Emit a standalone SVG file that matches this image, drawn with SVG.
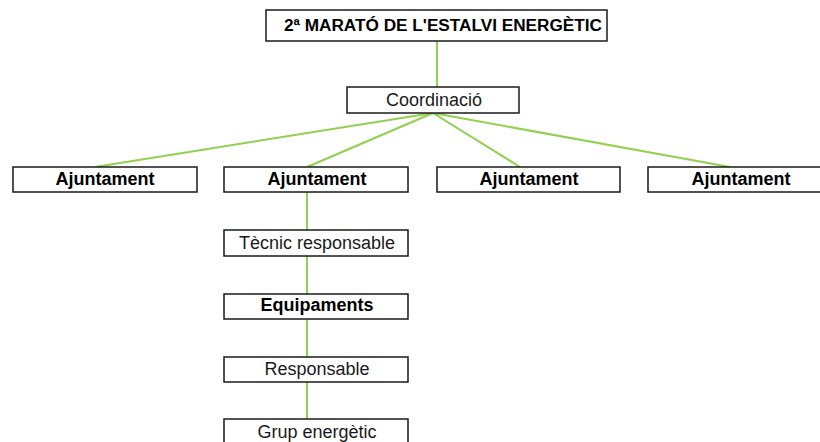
<svg xmlns="http://www.w3.org/2000/svg" width="820" height="442" viewBox="0 0 820 442">
<style>
.box{fill:#fff;stroke:#1a1a1a;stroke-width:1.5}
.t{font-family:"Liberation Sans",Arial,sans-serif;font-size:18px;fill:#1a1a1a;text-anchor:middle}
.b{font-weight:bold;fill:#000}
.c{stroke:#92d050;stroke-width:2;fill:none}
</style>
<rect width="820" height="442" fill="#fff"/>
<g id="connectors">
<line class="c" x1="437" y1="41" x2="437" y2="87"/>
<line class="c" x1="433" y1="113" x2="95" y2="167"/>
<line class="c" x1="433" y1="113" x2="307" y2="167"/>
<line class="c" x1="433" y1="113" x2="520" y2="167"/>
<line class="c" x1="433" y1="113" x2="730" y2="167"/>
<line class="c" x1="307" y1="192" x2="307" y2="230"/>
<line class="c" x1="307" y1="256" x2="307" y2="294"/>
<line class="c" x1="307" y1="319" x2="307" y2="357"/>
<line class="c" x1="307" y1="382" x2="307" y2="419"/>
</g>
<g id="title"><rect class="box" x="266" y="10" width="341" height="31"/><text class="t b" x="443" y="31" style="font-size:17.2px">2ª MARATÓ DE L'ESTALVI ENERGÈTIC</text></g>
<g id="coord"><rect class="box" x="347" y="87" width="172" height="26"/><text class="t" x="434" y="106">Coordinació</text></g>
<g id="aj1"><rect class="box" x="13" y="167" width="184" height="25"/><text class="t b" x="105" y="185">Ajuntament</text></g>
<g id="aj2"><rect class="box" x="224" y="167" width="184" height="25"/><text class="t b" x="317" y="185">Ajuntament</text></g>
<g id="aj3"><rect class="box" x="437" y="167" width="183" height="25"/><text class="t b" x="529" y="185">Ajuntament</text></g>
<g id="aj4"><rect class="box" x="648" y="167" width="184" height="25"/><text class="t b" x="741" y="185">Ajuntament</text></g>
<g id="tecnic"><rect class="box" x="224" y="230" width="184" height="26"/><text class="t" x="317" y="249">Tècnic responsable</text></g>
<g id="equip"><rect class="box" x="224" y="294" width="184" height="25"/><text class="t b" x="317" y="311">Equipaments</text></g>
<g id="resp"><rect class="box" x="224" y="357" width="184" height="25"/><text class="t" x="317" y="375">Responsable</text></g>
<g id="grup"><rect class="box" x="224" y="419" width="184" height="30"/><text class="t" x="317" y="438">Grup energètic</text></g>
</svg>
